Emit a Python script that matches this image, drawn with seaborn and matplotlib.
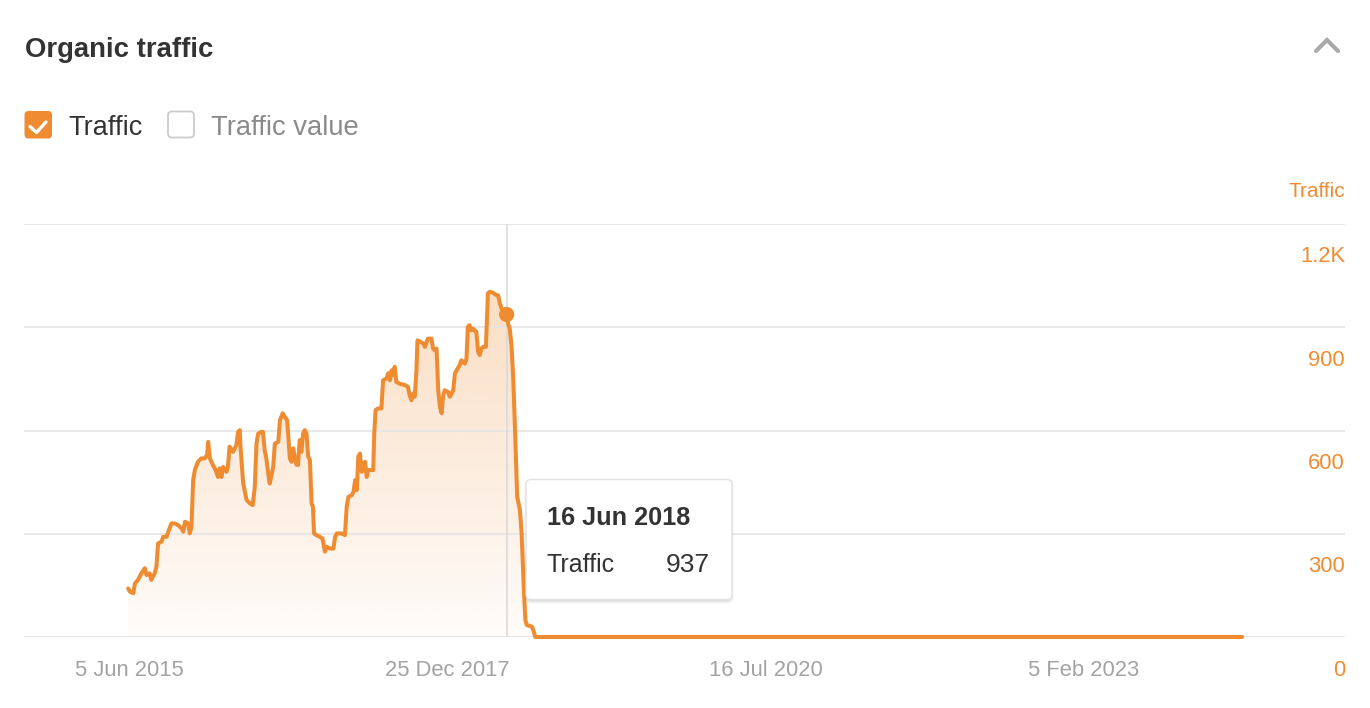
import numpy as np
import pandas as pd
import matplotlib
matplotlib.use("Agg")
import matplotlib.pyplot as plt
import matplotlib.dates as mdates
import matplotlib.transforms as mtransforms
from matplotlib.patches import FancyBboxPatch
from matplotlib.ticker import FuncFormatter
import seaborn as sns

# ---------------- data ----------------
dates = [
    "2015-05-31", "2015-06-05", "2015-06-15", "2015-06-20", "2015-06-29", "2015-07-09", "2015-07-19", "2015-07-24",
    "2015-08-02", "2015-08-07", "2015-08-17", "2015-08-22", "2015-08-27", "2015-09-06", "2015-09-11", "2015-09-21",
    "2015-09-26", "2015-10-05", "2015-10-15", "2015-10-25", "2015-10-30", "2015-11-04", "2015-11-09", "2015-11-14",
    "2015-11-23", "2015-11-28", "2015-12-03", "2015-12-08", "2015-12-13", "2015-12-22", "2016-01-01", "2016-01-11",
    "2016-01-18", "2016-01-21", "2016-01-26", "2016-02-04", "2016-02-12", "2016-02-19", "2016-02-24", "2016-02-29",
    "2016-03-05", "2016-03-15", "2016-03-19", "2016-03-24", "2016-04-03", "2016-04-13", "2016-04-18", "2016-04-23",
    "2016-04-25", "2016-05-03", "2016-05-13", "2016-05-23", "2016-05-31", "2016-06-06", "2016-06-11", "2016-06-16",
    "2016-06-26", "2016-06-30", "2016-07-05", "2016-07-10", "2016-07-18", "2016-07-20", "2016-07-30", "2016-08-04",
    "2016-08-14", "2016-08-19", "2016-08-27", "2016-09-02", "2016-09-09", "2016-09-12", "2016-09-17", "2016-09-22",
    "2016-09-27", "2016-10-02", "2016-10-07", "2016-10-11", "2016-10-16", "2016-10-21", "2016-10-26", "2016-10-31",
    "2016-11-05", "2016-11-10", "2016-11-15", "2016-11-20", "2016-11-24", "2016-11-27", "2016-12-04", "2016-12-14",
    "2016-12-22", "2016-12-29", "2017-01-03", "2017-01-13", "2017-01-23", "2017-01-28", "2017-02-02", "2017-02-16",
    "2017-02-26", "2017-03-03", "2017-03-08", "2017-03-18", "2017-03-23", "2017-03-28", "2017-04-02", "2017-04-06",
    "2017-04-11", "2017-04-16", "2017-04-21", "2017-04-26", "2017-05-01", "2017-05-05", "2017-05-20", "2017-05-23",
    "2017-05-27", "2017-06-03", "2017-06-13", "2017-06-18", "2017-06-28", "2017-07-03", "2017-07-08", "2017-07-13",
    "2017-07-17", "2017-07-22", "2017-07-27", "2017-08-06", "2017-08-21", "2017-08-30", "2017-09-04", "2017-09-09",
    "2017-09-14", "2017-09-19", "2017-09-24", "2017-09-27", "2017-10-04", "2017-10-14", "2017-10-19", "2017-10-24",
    "2017-10-28", "2017-11-07", "2017-11-12", "2017-11-17", "2017-11-22", "2017-11-27", "2017-12-02", "2017-12-07",
    "2017-12-11", "2017-12-16", "2017-12-26", "2017-12-31", "2018-01-05", "2018-01-10", "2018-01-15", "2018-01-20",
    "2018-01-29", "2018-02-03", "2018-02-13", "2018-02-18", "2018-02-22", "2018-02-27", "2018-03-04", "2018-03-09",
    "2018-03-14", "2018-03-19", "2018-03-24", "2018-03-29", "2018-04-03", "2018-04-08", "2018-04-16", "2018-04-22",
    "2018-04-27", "2018-05-07", "2018-05-17", "2018-05-22", "2018-05-27", "2018-06-01", "2018-06-06", "2018-06-16",
    "2018-06-20", "2018-06-25", "2018-06-30", "2018-07-05", "2018-07-10", "2018-07-17", "2018-07-25", "2018-07-30",
    "2018-08-03", "2018-08-06", "2018-08-10", "2018-08-14", "2018-08-29", "2018-09-03", "2018-09-08",
    "2024-05-16",
]
traffic = [
    141, 132, 127, 156, 166, 185, 200, 180,
    185, 166, 185, 204, 272, 277, 291, 291,
    306, 330, 330, 325, 320, 315, 306, 335,
    330, 301, 320, 456, 485, 509, 519, 519,
    529, 567, 519, 500, 485, 465, 490, 465,
    494, 480, 494, 553, 538, 558, 596, 601,
    553, 446, 398, 388, 383, 436, 562, 591,
    596, 596, 543, 519, 456, 446, 494, 562,
    567, 630, 650, 640, 630, 591, 519, 509,
    548, 519, 500, 500, 572, 538, 591, 601,
    591, 524, 514, 388, 378, 301, 296, 291,
    286, 248, 262, 257, 257, 291, 301, 301,
    296, 378, 407, 412, 422, 456, 427, 524,
    533, 480, 504, 509, 465, 485, 485, 591,
    659, 664, 664, 746, 751, 766, 746, 775,
    761, 785, 741, 736, 732, 727, 703, 688,
    707, 698, 775, 862, 858, 853, 843, 858,
    867, 867, 838, 833, 838, 717, 669, 650,
    698, 717, 712, 698, 707, 717, 766, 775,
    790, 804, 794, 809, 901, 906, 891, 896,
    891, 887, 829, 819, 838, 843, 843, 998,
    1003, 1000, 993, 993, 969, 955, 945, 937,
    911, 896, 850, 760, 621, 407, 369, 300,
    200, 128, 50, 35, 30, 18, 0,
    0,
]

x_tick_dates = ["2015-06-05", "2017-12-25", "2020-07-16", "2023-02-05"]
y_ticks = [0, 300, 600, 900, 1200]
y_tick_labels = ["0", "300", "600", "900", "1.2K"]
x_range = ["2014-07-29", "2025-03-14"]
hover_date = "2018-06-16"
hover_value = 937

title = "Organic traffic"
series_name = "Traffic"
other_series = "Traffic value"

# ---------------- style ----------------
ORANGE = "#EF8C32"
GRID = "#e6e6e6"
sns.set_theme(style="white")
plt.rcParams["font.family"] = ["Liberation Sans", "DejaVu Sans"]

W, H = 1370, 708
fig = plt.figure(figsize=(W / 100, H / 100), dpi=100)
fig.patch.set_facecolor("white")


def fx(px):
    return px / W


def fy(py):
    return 1 - py / H


ax = fig.add_axes([fx(24), fy(637), fx(1345) - fx(24), fy(224) - fy(637)])

df = pd.DataFrame({"date": pd.to_datetime(dates), "traffic": traffic})

sns.lineplot(data=df, x="date", y="traffic", ax=ax, color=ORANGE, lw=2.9,
             estimator=None, zorder=4)
for ln in ax.get_lines():
    ln.set_clip_on(False)
    ln.set_solid_joinstyle("round")

# gradient area under the curve
poly = ax.fill_between(df["date"], df["traffic"], 0, facecolor="none", edgecolor="none")
xnum = mdates.date2num(df["date"])
top = 1080
alphas = np.linspace(0.03, 0.31, 256)[:, None]
rgb = np.array(matplotlib.colors.to_rgb(ORANGE))
grad = np.zeros((256, 1, 4))
grad[..., :3] = rgb
grad[..., 3] = alphas
im = ax.imshow(grad, extent=[xnum.min(), xnum.max(), 0, top], aspect="auto",
               origin="lower", zorder=0.2, interpolation="bilinear")
im.set_clip_path(poly.get_paths()[0], transform=ax.transData)

# hover guide and point
hv = pd.Timestamp(hover_date)
ax.axvline(hv, color="#d8d8d8", lw=1.1, zorder=1)
sns.scatterplot(x=[hv], y=[hover_value], ax=ax, color=ORANGE, s=120,
                edgecolor="none", zorder=5, legend=False)

# axes
ax.set_xlim(pd.Timestamp(x_range[0]), pd.Timestamp(x_range[1]))
ax.set_ylim(0, 1200)
ax.set_xlabel("")
ax.set_ylabel("")
for s in ax.spines.values():
    s.set_visible(False)
ax.grid(axis="y", color=GRID, lw=1.3)
ax.grid(axis="x", visible=False)
ax.set_axisbelow(True)

ax.set_xticks([pd.Timestamp(d) for d in x_tick_dates])
ax.xaxis.set_major_formatter(FuncFormatter(
    lambda v, p: (lambda d: f"{d.day} {d:%b %Y}")(mdates.num2date(v))))
ax.tick_params(axis="x", length=0, pad=28, labelsize=15.8, labelcolor="#a3a3a3")
for lab in ax.get_xticklabels():
    lab.set_va("baseline")

ax.yaxis.tick_right()
ax.set_yticks(y_ticks, y_tick_labels)
ax.tick_params(axis="y", length=0, pad=0, labelsize=15.8, labelcolor=ORANGE)
off = mtransforms.ScaledTranslation(0, -38.5 / 100, fig.dpi_scale_trans)
for lab in ax.get_yticklabels():
    lab.set_ha("right")
    lab.set_va("baseline")
    lab.set_transform(lab.get_transform() + off)

# ---------------- overlay (pixel coordinates) ----------------
ov = fig.add_axes([0, 0, 1, 1], zorder=10)
ov.set_xlim(0, W)
ov.set_ylim(H, 0)
ov.axis("off")
ov.patch.set_alpha(0)

ov.text(25, 57, title, fontsize=19.8, fontweight="bold", color="#333333", va="baseline", ha="left")

# chevron
ov.plot([1316, 1327, 1338], [51, 40, 51], color="#a9a9a9", lw=3.0, solid_capstyle="round",
        solid_joinstyle="miter")

# checkboxes
ov.add_patch(FancyBboxPatch((24.5, 111), 27.5, 27.5, boxstyle="round,pad=0,rounding_size=4",
                            facecolor=ORANGE, edgecolor="none"))
ov.plot([30, 36.5, 46], [126.5, 132.5, 122], color="white", lw=2.4,
        solid_capstyle="round", solid_joinstyle="round")
ov.text(68, 135, series_name, fontsize=19.5, color="#333333", va="baseline", ha="left")
ov.add_patch(FancyBboxPatch((168, 111.5), 26, 26, boxstyle="round,pad=0,rounding_size=4",
                            facecolor="white", edgecolor="#cccccc", lw=1.3))
ov.text(211, 135, other_series, fontsize=19.7, color="#8a8a8a", va="baseline", ha="left")

# axis title
ov.text(1345, 197, series_name, fontsize=15, color=ORANGE, va="baseline", ha="right")

# tooltip
for i, a in enumerate([0.05, 0.04, 0.03]):
    ov.add_patch(FancyBboxPatch((526 - i, 480 - i + 1.5), 206 + 2 * i, 120 + 2 * i,
                                boxstyle="round,pad=0,rounding_size=6",
                                facecolor=(0, 0, 0, a), edgecolor="none"))
ov.add_patch(FancyBboxPatch((526, 479.5), 206, 120, boxstyle="round,pad=0,rounding_size=5",
                            facecolor="white", edgecolor="#e2e2e2", lw=1.0))
d = pd.Timestamp(hover_date)
ov.text(547, 525, f"{d.day} {d:%b %Y}", fontsize=18.2, fontweight="bold", color="#333333",
        va="baseline", ha="left")
ov.text(547, 571.5, series_name, fontsize=18, color="#333333", va="baseline", ha="left")
ov.text(710, 571.5, f"{hover_value}", fontsize=19, color="#333333", va="baseline", ha="right")

fig.savefig("out.png", dpi=100, facecolor="white")
